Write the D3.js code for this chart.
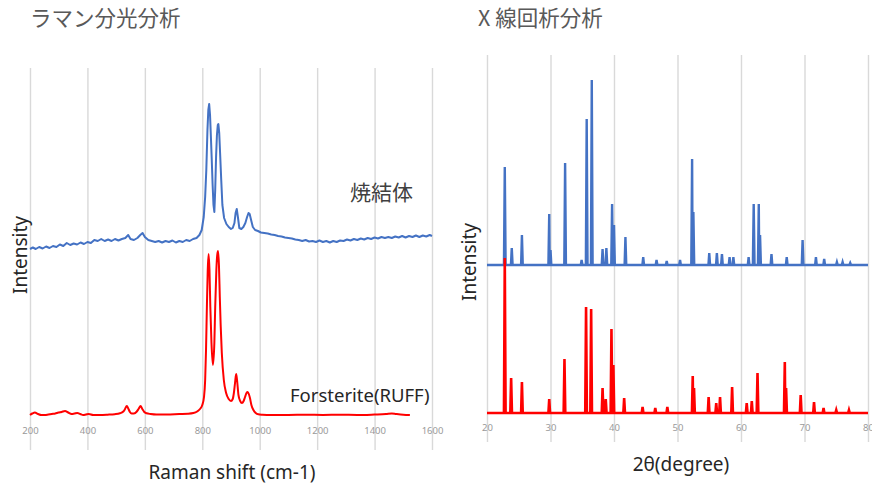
<!DOCTYPE html>
<html>
<head>
<meta charset="utf-8">
<script src="https://cdn.jsdelivr.net/npm/d3@7"></script>
<style>
  body { margin: 0; background: #fff; }
  svg { display: block; }
  .tick text { fill: #9a9a9a; font-family: "Noto Sans", sans-serif; font-size: 9.5px; }
  .tick line { stroke: #d9d9d9; stroke-width: 1.4; }
  .domain { display: none; }
</style>
</head>
<body>
<script>
// ---- Raman data (arbitrary intensity units) ----
const ramanTicks = [200, 400, 600, 800, 1000, 1200, 1400, 1600];

const sinteredShift = [200,210,220,232,244,256,268,280,292,304,316,328,340,352,364,376,388,400,412,424,436,448,460,472,484,496,508,520,532,542,550,562,574,584,592,600,612,624,636,648,660,672,684,696,708,720,732,744,756,768,780,790,798,805,810,814,818,821,824,827,830,833,836,839,842,845,848,851,854,856,859,862,866,870,876,884,892,900,906,912,916,920,924,929,936,943,950,956,961,965,970,976,984,994,1004,1016,1028,1040,1052,1064,1076,1088,1100,1112,1124,1136,1148,1160,1172,1184,1196,1208,1220,1232,1244,1256,1268,1280,1292,1304,1316,1328,1340,1352,1364,1376,1388,1400,1412,1424,1436,1448,1460,1472,1484,1496,1508,1520,1532,1544,1556,1568,1580,1592,1600];
const sinteredInt = [166,167.5,166,168,166.5,168.5,167,169,168,170.5,169,172,170,171.5,170.5,172.5,171,173,172,175,174,176,174,175.5,174,176,174.5,176,177,180,176,175,177,180,182,178,175,174,173,174,172.5,174,173,174.5,172.5,174,173,175,174,176,177,180,185,198,218,245,285,305,311,300,278,255,230,210,203,225,258,280,290,291,282,262,235,210,197,191,188,186,187,192,202,206,198,187,186,188,192,198,202,201,195,188,185,184,182.5,182,181.5,180.5,180,179,178.5,177.5,177,176.5,175.5,175,174,175,173.5,174,173,174.5,173,174,172.5,174,173,174.5,174,175.5,174.5,176,175,176.5,175.5,177,176,177.5,176.5,178,177,178,177,178.5,177.5,179,177.5,179,178,179.5,178,179.5,178.5,180,179];

const forsteriteShift = [200,208,217,228,240,252,264,276,288,299,310,322,333,345,355,365,375,385,395,405,420,444,470,495,513,525,531,537,543,548,554,562,572,579,585,591,598,606,620,640,676,720,750,769,782,792,800,806,810,813,816,819,822,825,828,832,837,842,845,849,852,855,858,861,864,868,875,883,892,900,906,910,914,918,921,926,932,938,944,949,954,958,962,966,971,978,986,995,1010,1040,1100,1160,1220,1280,1340,1400,1440,1460,1475,1500,1523];
const forsteriteInt = [0,1.5,2.5,1,0,0,0.5,1,1.5,2.5,3,4,2.5,1,1.5,2,1,0,0.5,1,0,0,0.3,0.8,1.7,3.5,6,9,6,3,1.5,1.5,3.5,6.5,9,6,3,1.7,1,0.5,0.5,1,1.3,2,3.5,6,10,18,35,65,108,145,161,145,108,72,50,72,108,145,160,164,150,118,90,62,35,22,16,14,16,22,32,41,35,20,14,12,14,18,22,23,21,17,10,5,2,0.7,0.3,0,0,0.3,0,0.3,0,0.5,1,1.5,1,0.3,0];

// ---- XRD data: peak positions (2θ) and heights above baseline ----
const xrdTicks = [20, 30, 40, 50, 60, 70, 80];
const sinteredBase = 148;
const sinteredPeakPos = [22.8,23.9,25.5,29.8,30.0,32.3,34.9,35.7,36.5,38.2,38.8,39.7,40.0,41.8,44.6,46.7,48.3,50.4,52.3,52.5,55.0,56.2,57.0,58.2,58.8,61.2,62.0,62.8,63.0,64.8,67.2,69.7,71.8,73.1,75.1,76.0,77.2];
const sinteredPeakH   = [98,17,30,51,15,102,5,146,185,16,17,61,40,28,8,5,4,5,106,53,12,12,11,8,8,8,61,61,30,11,8,25,8,6,3,3,2];
const forsteriteBase = 0;
const forsteritePeakPos = [22.8,23.8,25.5,29.8,32.2,35.6,36.4,38.2,38.7,39.6,39.9,41.6,44.5,46.5,48.4,52.4,52.6,54.9,56.1,56.7,58.6,60.9,61.7,62.6,66.9,67.1,69.4,71.5,73.0,75.0,77.0];
const forsteritePeakH   = [155,35,31,14,54,106,104,25,14,84,48,15,6,5,6,37,25,16,10,16,26,10,12,40,51,25,18,11,5,3,3];

const W = 872, H = 485;
const svg = d3.select('body').append('svg').attr('width', W).attr('height', H);
const cjk = '"Noto Sans CJK JP", sans-serif';
const latin = '"Noto Sans", sans-serif';

// ================= Raman panel =================
const xR = d3.scaleLinear().domain([200, 1600]).range([30, 432]);
const yR = d3.scaleLinear().domain([0, 350]).range([415, 65]);

svg.append('g')
  .attr('transform', 'translate(0,450)')
  .call(d3.axisBottom(xR).tickValues(ramanTicks).tickFormat(d3.format('d'))
    .tickSize(-382).tickSizeOuter(0).tickPadding(-23));

const lineR = d3.line().x(d => xR(d[0])).y(d => yR(d[1]));

svg.append('path')
  .datum(sinteredShift.map((s, i) => [s, sinteredInt[i]]))
  .attr('d', lineR).attr('fill', 'none').attr('stroke', '#4472c4').attr('stroke-width', 2)
  .attr('stroke-linejoin', 'round');

svg.append('path')
  .datum(forsteriteShift.map((s, i) => [s, forsteriteInt[i]]))
  .attr('d', lineR.curve(d3.curveMonotoneX)).attr('fill', 'none').attr('stroke', '#ff0000').attr('stroke-width', 2);

svg.append('text').attr('x', 30).attr('y', 26).text('ラマン分光分析')
  .style('font-family', cjk).style('font-size', '21.5px').style('fill', '#595959');
svg.append('text').attr('x', 350).attr('y', 200).text('焼結体')
  .style('font-family', cjk).style('font-size', '21px').style('fill', '#404040');
svg.append('text').attr('x', 290).attr('y', 402).text('Forsterite(RUFF)')
  .style('font-family', latin).style('font-size', '18.5px').style('fill', '#262626');
svg.append('text').attr('x', 232).attr('y', 479).attr('text-anchor', 'middle').text('Raman shift (cm-1)')
  .style('font-family', latin).style('font-size', '19px').style('fill', '#262626');
svg.append('text').attr('transform', 'translate(27,255) rotate(-90)').attr('text-anchor', 'middle').text('Intensity')
  .style('font-family', latin).style('font-size', '19px').style('fill', '#262626');

// ================= XRD panel =================
const xX = d3.scaleLinear().domain([20, 80]).range([487, 868]);
const yX = d3.scaleLinear().domain([0, 350]).range([413, 63]);

svg.append('g')
  .attr('transform', 'translate(0,442)')
  .call(d3.axisBottom(xX).tickValues(xrdTicks).tickSize(-387).tickSizeOuter(0).tickPadding(-18));

function stickPattern(pos, h, base) {
  const pts = [[20, base]];
  pos.forEach((p, i) => {
    pts.push([p - 0.13, base], [p, base + h[i]], [p + 0.13, base]);
  });
  pts.push([80, base]);
  return pts.sort((a, b) => a[0] - b[0]);
}

const lineX = d3.line().x(d => xX(d[0])).y(d => yX(d[1]));

svg.append('path')
  .datum(stickPattern(sinteredPeakPos, sinteredPeakH, sinteredBase))
  .attr('d', lineX).attr('fill', 'none').attr('stroke', '#4472c4').attr('stroke-width', 2.4);

svg.append('path')
  .datum(stickPattern(forsteritePeakPos, forsteritePeakH, forsteriteBase))
  .attr('d', lineX).attr('fill', 'none').attr('stroke', '#ff0000').attr('stroke-width', 2.6);

svg.append('text').attr('x', 478).attr('y', 26).text('X 線回析分析')
  .style('font-family', cjk).style('font-size', '21.5px').style('fill', '#595959');
svg.append('text').attr('x', 681).attr('y', 471).attr('text-anchor', 'middle').text('2θ(degree)')
  .style('font-family', latin).style('font-size', '19px').style('fill', '#262626');
svg.append('text').attr('transform', 'translate(476,262) rotate(-90)').attr('text-anchor', 'middle').text('Intensity')
  .style('font-family', latin).style('font-size', '19px').style('fill', '#262626');
</script>
</body>
</html>
